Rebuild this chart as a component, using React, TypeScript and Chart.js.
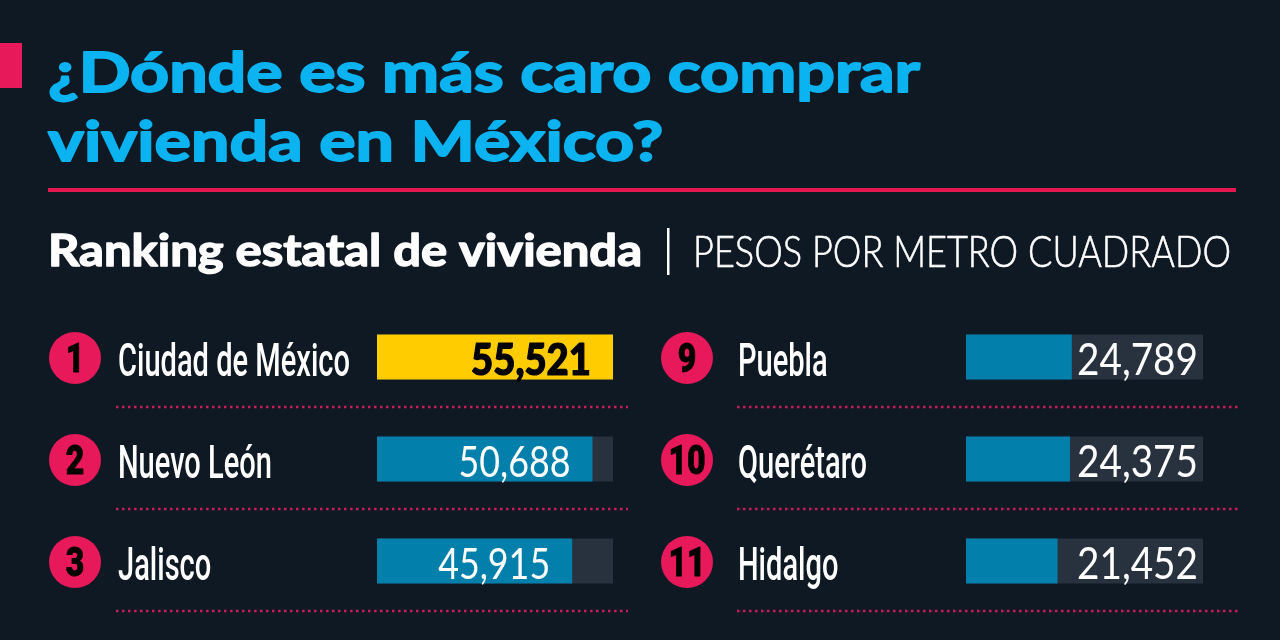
import React, { useEffect, useRef } from "react";
import { Chart, registerables } from "chart.js";
Chart.register(...registerables);

// ---- data ----
const titleLines = ["¿Dónde es más caro comprar", "vivienda en México?"];
const subtitleBold = "Ranking estatal de vivienda";
const subtitleUnit = "PESOS POR METRO CUADRADO";
const leftRanks = [1, 2, 3];
const leftStates = ["Ciudad de México", "Nuevo León", "Jalisco"];
const leftValues = [55521, 50688, 45915];
const rightRanks = [9, 10, 11];
const rightStates = ["Puebla", "Querétaro", "Hidalgo"];
const rightValues = [24789, 24375, 21452];
const highlightRank = 1;

// ---- style ----
const BG = "#0f1924";
const CYAN = "#0bb3f0";
const PINK = "#e8195a";
const TRACK = "#28323e";
const BLUE = "#037fab";
const YELLOW = "#ffcc00";
const scaleMax = Math.max(...leftValues, ...rightValues);

const fmt = (v: number) => v.toLocaleString("en-US");

function fitText(
  ctx: CanvasRenderingContext2D,
  text: string,
  x: number,
  y: number,
  sx: number,
  align: "left" | "right" | "center",
  strokeW = 0
) {
  const w = ctx.measureText(text).width * sx;
  let x0 = x;
  if (align === "right") x0 = x - w;
  if (align === "center") x0 = x - w / 2;
  ctx.save();
  ctx.translate(x0, y);
  ctx.scale(sx, 1);
  ctx.textAlign = "left";
  ctx.fillText(text, 0, 0);
  if (strokeW > 0) {
    ctx.strokeStyle = ctx.fillStyle as string;
    ctx.lineWidth = strokeW;
    ctx.lineJoin = "round";
    ctx.strokeText(text, 0, 0);
  }
  ctx.restore();
}

type Col = {
  ranks: number[];
  states: string[];
  values: number[];
  circleX: number;
  nameX: number;
  dotX1: number;
  dotX2: number;
  labelInside: boolean;
  valueRefText: string;
  valueRefWidth: number;
  valueFontSize: number;
  drawHeader: boolean;
};

function makeConfig(col: Col, pad: { left: number; right: number }): any {
  const plugin = {
    id: "infographic",
    beforeDraw(chart: any) {
      if (!col.drawHeader) return;
      const ctx: CanvasRenderingContext2D = chart.ctx;
      ctx.save();
      ctx.fillStyle = BG;
      ctx.fillRect(0, 0, chart.width, chart.height);
      // accent block
      ctx.fillStyle = PINK;
      ctx.fillRect(0, 43, 22, 45);
      // title
      ctx.fillStyle = CYAN;
      ctx.font = "bold 55px Lato";
      const tsx = 872 / ctx.measureText(titleLines[0]).width;
      fitText(ctx, titleLines[0], 48, 92, tsx, "left", 1.8);
      fitText(ctx, titleLines[1], 48, 161, tsx, "left", 1.8);
      // rule
      ctx.fillStyle = "#e2184f";
      ctx.fillRect(48, 188, 1188, 4);
      // subtitle
      ctx.fillStyle = "#ffffff";
      ctx.font = "bold 43px Lato";
      const ssx = 594 / ctx.measureText(subtitleBold).width;
      fitText(ctx, subtitleBold, 48, 266, ssx, "left", 1.4);
      ctx.fillRect(667, 228, 2.5, 47);
      ctx.font = "300 43px Lato";
      const usx = 538 / ctx.measureText(subtitleUnit).width;
      fitText(ctx, subtitleUnit, 693, 267, usx, "left", 0.6);
      ctx.restore();
    },
    afterDatasetsDraw(chart: any) {
      const ctx: CanvasRenderingContext2D = chart.ctx;
      const ys = chart.scales.y;
      const xs = chart.scales.x;
      ctx.save();
      ctx.font = "500 46px Roboto";
      const nsx = 232 / ctx.measureText("Ciudad de México").width;
      col.states.forEach((name, i) => {
        const y = ys.getPixelForValue(i);
        const rank = col.ranks[i];
        // circle
        ctx.fillStyle = PINK;
        ctx.beginPath();
        ctx.arc(col.circleX, y + 1, 26, 0, Math.PI * 2);
        ctx.fill();
        ctx.fillStyle = "#000000";
        ctx.font = "900 40px Roboto";
        fitText(ctx, String(rank), col.circleX, y + 15, 0.8, "center", 0.8);
        // name
        ctx.fillStyle = "#ffffff";
        ctx.font = "500 46px Roboto";
        fitText(ctx, name, col.nameX, y + 19, nsx, "left");
        // dotted separator
        ctx.strokeStyle = "#c91d5a";
        ctx.lineWidth = 2.5;
        ctx.setLineDash([2.5, 3.5]);
        ctx.beginPath();
        ctx.moveTo(col.dotX1, y + 50);
        ctx.lineTo(col.dotX2, y + 50);
        ctx.stroke();
        ctx.setLineDash([]);
        // value label
        const v = col.values[i];
        const isHi = rank === highlightRank;
        ctx.font = (isHi ? "900 " : "400 ") + col.valueFontSize + "px Lato";
        const base = ctx.measureText(col.valueRefText).width;
        let vsx = col.valueRefWidth / base;
        ctx.fillStyle = isHi ? "#000000" : "#ffffff";
        const txt = fmt(v);
        if (isHi) {
          vsx = 120 / ctx.measureText(txt).width;
        }
        if (col.labelInside) {
          fitText(ctx, txt, xs.getPixelForValue(v) - 22, y + 18, vsx, "right", isHi ? 1.2 : 0);
        } else {
          fitText(ctx, txt, xs.getPixelForValue(scaleMax) - 5, y + 18, vsx, "right");
        }
      });
      ctx.restore();
    },
  };

  return {
    type: "bar",
    data: {
      labels: col.states,
      datasets: [
        {
          label: "valor",
          data: col.values,
          backgroundColor: col.ranks.map((r) => (r === highlightRank ? YELLOW : BLUE)),
          borderWidth: 0,
          barPercentage: 0.44,
          categoryPercentage: 1,
          grouped: false,
          order: 1,
        },
        {
          label: "escala",
          data: col.values.map(() => scaleMax),
          backgroundColor: TRACK,
          borderWidth: 0,
          barPercentage: 0.44,
          categoryPercentage: 1,
          grouped: false,
          order: 2,
        },
      ],
    },
    options: {
      indexAxis: "y",
      animation: false,
      responsive: false,
      maintainAspectRatio: false,
      layout: { padding: { left: pad.left, right: pad.right, top: 306, bottom: 28 } },
      plugins: { legend: { display: false }, tooltip: { enabled: false }, title: { display: false } },
      scales: {
        x: { min: 0, max: scaleMax, display: false },
        y: { type: "category", display: false },
      },
    },
    plugins: [plugin],
  };
}

export default function App() {
  const leftRef = useRef<HTMLCanvasElement>(null);
  const rightRef = useRef<HTMLCanvasElement>(null);

  useEffect(() => {
    document.body.style.margin = "0";
    document.body.style.background = BG;
    const left = new Chart(
      leftRef.current!,
      makeConfig(
        {
          ranks: leftRanks,
          states: leftStates,
          values: leftValues,
          circleX: 75,
          nameX: 118,
          dotX1: 116,
          dotX2: 628,
          labelInside: true,
          valueRefText: "50,688",
          valueRefWidth: 112,
          valueFontSize: 43,
          drawHeader: true,
        },
        { left: 377, right: 1280 - 613 }
      )
    );
    const right = new Chart(
      rightRef.current!,
      makeConfig(
        {
          ranks: rightRanks,
          states: rightStates,
          values: rightValues,
          circleX: 687,
          nameX: 738,
          dotX1: 737,
          dotX2: 1239,
          labelInside: false,
          valueRefText: "24,789",
          valueRefWidth: 121,
          valueFontSize: 45,
          drawHeader: false,
        },
        { left: 966, right: 1280 - 1203 }
      )
    );
    return () => {
      left.destroy();
      right.destroy();
    };
  }, []);

  return (
    <div style={{ position: "fixed", left: 0, top: 0, width: 1280, height: 640, overflow: "hidden", background: BG }}>
      <canvas ref={leftRef} width={1280} height={640} style={{ position: "absolute", left: 0, top: 0 }} />
      <canvas ref={rightRef} width={1280} height={640} style={{ position: "absolute", left: 0, top: 0 }} />
    </div>
  );
}
